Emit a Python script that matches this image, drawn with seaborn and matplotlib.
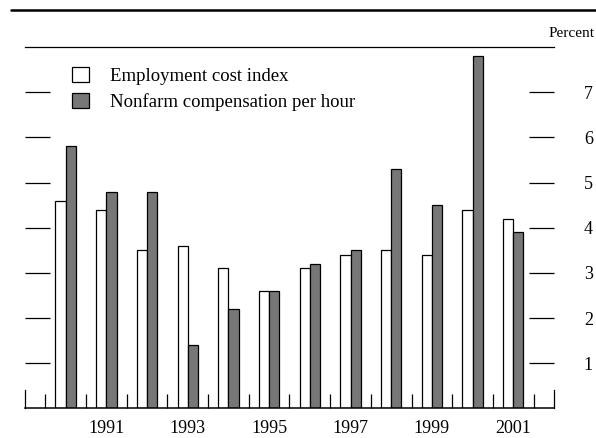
import pandas as pd
import numpy as np
import matplotlib
matplotlib.use('Agg')
import matplotlib.pyplot as plt
import seaborn as sns
from matplotlib.lines import Line2D

# data (percent change)
years = [1990, 1991, 1992, 1993, 1994, 1995, 1996, 1997, 1998, 1999, 2000, 2001]
eci = [4.6, 4.4, 3.5, 3.6, 3.1, 2.6, 3.1, 3.4, 3.5, 3.4, 4.4, 4.2]
nonfarm = [5.8, 4.8, 4.8, 1.4, 2.2, 2.6, 3.2, 3.5, 5.3, 4.5, 7.8, 3.9]
series_names = ['Employment cost index', 'Nonfarm compensation per hour']
year_labels = [1991, 1993, 1995, 1997, 1999, 2001]
pct_ticks = [1, 2, 3, 4, 5, 6, 7]

df = pd.DataFrame({
    'year': years * 2,
    'value': eci + nonfarm,
    'series': [series_names[0]] * len(years) + [series_names[1]] * len(years),
})

sns.set_theme(style='white')
plt.rcParams['font.family'] = ['Liberation Serif', 'DejaVu Serif']
plt.rcParams['text.color'] = 'black'

fig = plt.figure(figsize=(5.96, 4.38), dpi=100)
ax = fig.add_axes([0.0419, 0.0674, 0.8876, 0.8253])

sns.barplot(data=df, x='year', y='value', hue='series', hue_order=series_names,
            palette=['white', '#777777'], native_scale=True, width=0.5,
            dodge=True, errorbar=None, edgecolor='black', linewidth=0.9,
            saturation=1, ax=ax)

ax.set_xlim(1989, 2002)
ax.set_ylim(0, 8)
ax.set_xlabel('')
ax.set_ylabel('')

# x axis: labels on odd years, short ticks between years
ax.set_xticks(year_labels)
ax.set_xticklabels([str(y) for y in year_labels], fontsize=13)
ax.set_xticks(np.arange(1989.5, 2002, 1), minor=True)
ax.tick_params(axis='x', which='major', length=0, pad=8.5, colors='black')
ax.tick_params(axis='x', which='minor', bottom=True, direction='in',
               length=10, width=0.9, color='black')

# y axis: inward ticks on both sides, labels on the right
ax.set_yticks(pct_ticks)
ax.tick_params(axis='y', left=True, right=True, labelleft=False,
               labelright=True, direction='in', length=18, width=0.9,
               pad=21.5, labelsize=13, colors='black')

for side in ['left', 'right', 'top', 'bottom']:
    ax.spines[side].set_visible(True)
    ax.spines[side].set_color('black')
ax.spines['left'].set_bounds(0, 0.41)
ax.spines['right'].set_bounds(0, 0.41)
ax.spines['top'].set_linewidth(0.9)
ax.spines['bottom'].set_linewidth(1.1)
ax.spines['left'].set_linewidth(0.9)
ax.spines['right'].set_linewidth(0.9)

sns.move_legend(ax, loc='upper left', bbox_to_anchor=(0.121, 0.848),
                bbox_transform=fig.transFigure, frameon=False, title=None,
                fontsize=13.5, handlelength=0.9, handleheight=0.9,
                handletextpad=1.1, labelspacing=0.42, borderpad=0,
                borderaxespad=0, labelcolor='black')

# thick rule across the top and unit label
fig.add_artist(Line2D([0.018, 1.0], [0.977, 0.977], color='black', lw=1.8,
                      transform=fig.transFigure))
fig.text(0.997, 0.9155, 'Percent', ha='right', va='baseline', fontsize=11,
         color='black')

plt.savefig('out.png', dpi=100)
